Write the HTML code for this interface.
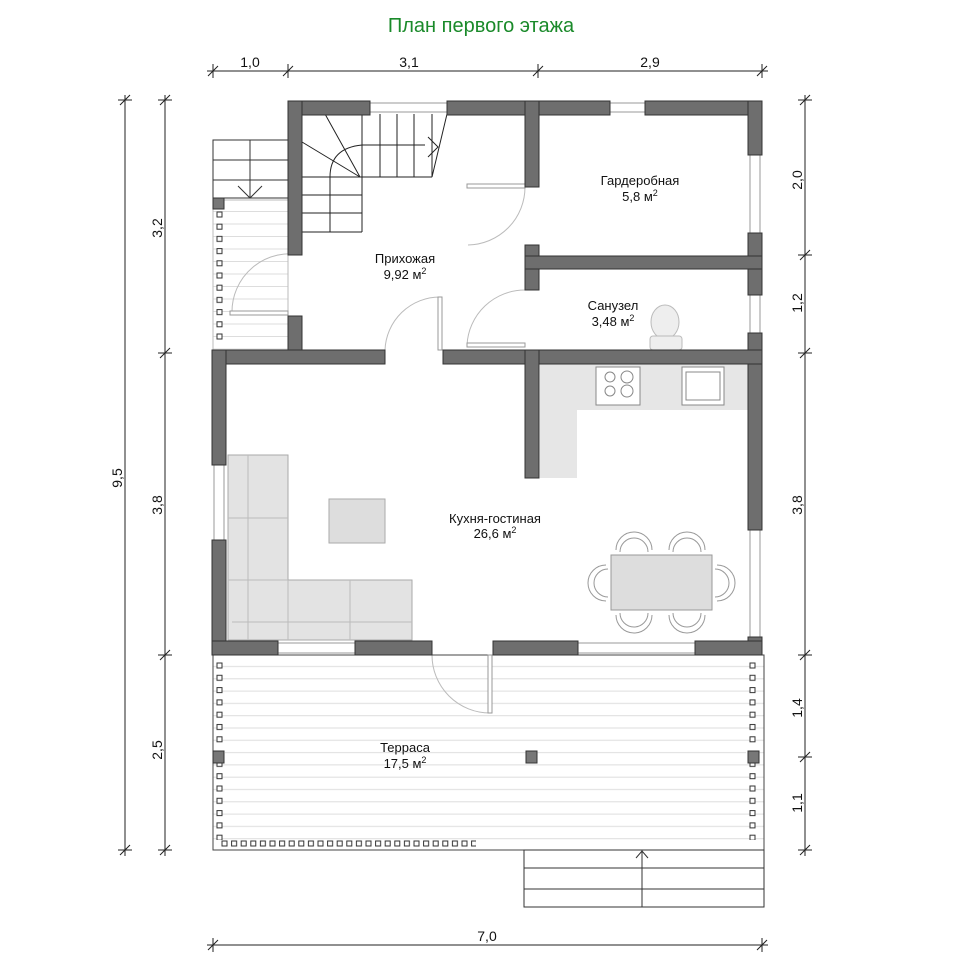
<!DOCTYPE html>
<html><head><meta charset="utf-8"><style>
html,body{margin:0;padding:0;background:#fff}
svg{display:block}
text{font-family:"Liberation Sans",sans-serif;fill:#111}
</style></head><body>
<svg width="980" height="980" viewBox="0 0 980 980" xmlns="http://www.w3.org/2000/svg">
<defs>
<pattern id="hatch" x="0" y="655" width="10" height="12.3" patternUnits="userSpaceOnUse">
<line x1="0" y1="11.5" x2="10" y2="11.5" stroke="#ddd" stroke-width="1"/></pattern>
<pattern id="hatch2" x="0" y="200" width="10" height="12.5" patternUnits="userSpaceOnUse">
<line x1="0" y1="11.5" x2="10" y2="11.5" stroke="#ddd" stroke-width="1"/></pattern>
<pattern id="postV" x="216" y="660" width="20" height="12.3" patternUnits="userSpaceOnUse">
<rect x="1" y="3" width="5" height="5" fill="#fff" stroke="#333" stroke-width="1"/></pattern>
<pattern id="postVR" x="749" y="660" width="20" height="12.3" patternUnits="userSpaceOnUse">
<rect x="1" y="3" width="5" height="5" fill="#fff" stroke="#333" stroke-width="1"/></pattern>
<pattern id="postV2" x="216" y="209" width="20" height="12.2" patternUnits="userSpaceOnUse">
<rect x="1" y="3" width="5" height="5" fill="#fff" stroke="#333" stroke-width="1"/></pattern>
<pattern id="postH" x="221" y="840" width="9.6" height="20" patternUnits="userSpaceOnUse">
<rect x="1" y="1" width="5" height="5" fill="#fff" stroke="#333" stroke-width="1"/></pattern>
</defs>

<text x="481" y="32" font-size="20" text-anchor="middle" style="fill:#1a8a2a">План первого этажа</text>

<g stroke="#222" stroke-width="1" fill="none">
<line x1="207" y1="71" x2="768" y2="71"/>
<line x1="207" y1="945" x2="768" y2="945"/>
<line x1="125" y1="95" x2="125" y2="856"/>
<line x1="165" y1="95" x2="165" y2="856"/>
<line x1="805" y1="95" x2="805" y2="856"/>
<path d="M208,76 L218,66 M283,76 L293,66 M533,76 L543,66 M757,76 L767,66 M213,64 V78 M288,64 V78 M538,64 V78 M762,64 V78"/>
<path d="M208,950 L218,940 M757,950 L767,940 M213,938 V952 M762,938 V952"/>
<path d="M120,105 L130,95 M120,855 L130,845 M118,100 H132 M118,850 H132"/>
<path d="M160,105 L170,95 M160,358 L170,348 M160,660 L170,650 M160,855 L170,845 M158,100 H172 M158,353 H172 M158,655 H172 M158,850 H172"/>
<path d="M800,105 L810,95 M800,260 L810,250 M800,358 L810,348 M800,660 L810,650 M800,762 L810,752 M800,855 L810,845 M798,100 H812 M798,255 H812 M798,353 H812 M798,655 H812 M798,757 H812 M798,850 H812"/>
</g>
<g font-size="14">
<text x="250" y="67" text-anchor="middle">1,0</text>
<text x="409" y="67" text-anchor="middle">3,1</text>
<text x="650" y="67" text-anchor="middle">2,9</text>
<text x="487" y="941" text-anchor="middle">7,0</text>
<text transform="translate(122,478) rotate(-90)" text-anchor="middle">9,5</text>
<text transform="translate(162,228) rotate(-90)" text-anchor="middle">3,2</text>
<text transform="translate(162,505) rotate(-90)" text-anchor="middle">3,8</text>
<text transform="translate(162,750) rotate(-90)" text-anchor="middle">2,5</text>
<text transform="translate(802,180) rotate(-90)" text-anchor="middle">2,0</text>
<text transform="translate(802,303) rotate(-90)" text-anchor="middle">1,2</text>
<text transform="translate(802,505) rotate(-90)" text-anchor="middle">3,8</text>
<text transform="translate(802,708) rotate(-90)" text-anchor="middle">1,4</text>
<text transform="translate(802,803) rotate(-90)" text-anchor="middle">1,1</text>
</g>

<rect x="213" y="655" width="551" height="195" fill="url(#hatch)" stroke="#444" stroke-width="1"/>
<rect x="216" y="660" width="8" height="180" fill="url(#postV)"/>
<rect x="749" y="660" width="8" height="180" fill="url(#postVR)"/>
<rect x="221" y="840" width="255" height="8" fill="url(#postH)"/>
<rect x="214" y="748" width="11" height="14" fill="#fff"/>
<rect x="746" y="748" width="12" height="14" fill="#fff"/>
<g fill="#777" stroke="#333" stroke-width="1">
<rect x="213" y="751" width="11" height="12"/>
<rect x="526" y="751" width="11" height="12"/>
<rect x="748" y="751" width="11" height="12"/>
</g>
<g stroke="#333" fill="none" stroke-width="1">
<rect x="524" y="850" width="240" height="57"/>
<line x1="524" y1="868" x2="764" y2="868"/>
<line x1="524" y1="889" x2="764" y2="889"/>
<line x1="642" y1="850" x2="642" y2="907"/>
<path d="M636,858 L642,851 L648,858"/>
</g>

<rect x="213" y="200" width="75" height="150" fill="url(#hatch2)" stroke="#bbb" stroke-width="1"/>
<rect x="216" y="209" width="8" height="135" fill="url(#postV2)"/>
<g stroke="#333" fill="none" stroke-width="1">
<path d="M213,200 V140 H288 M213,160 H288 M213,180 H288 M213,198 H288 M250,140 V198 M238,186 L250,198 L262,186"/>
</g>
<rect x="213" y="198" width="11" height="11" fill="#777" stroke="#333"/>

<g stroke="#222" fill="none" stroke-width="1">
<path d="M362,114 V177 M380,114 V177 M397,114 V177 M414,114 V177 M432,114 V177"/>
<path d="M362,177 H432 M447,114 L432,177"/>
<path d="M302,177 H362 V232 M302,195 H362 M302,213 H362 M330,177 V232 M302,232 H362"/>
<path d="M325,114 L360,177 M302,142 L360,177"/>
<path d="M330,177 Q330,148 362,145 H425"/>
<path d="M428,137 L438,147 L428,157"/>
</g>

<g fill="#e3e3e3" stroke="#aaa" stroke-width="1">
<path d="M540,364 H748 V410 H577 V478 H540 Z" stroke="none" fill="#e6e6e6"/>
<rect x="228" y="455" width="60" height="185"/>
<rect x="228" y="580" width="184" height="60"/>
<rect x="329" y="499" width="56" height="44" fill="#ddd"/>
<rect x="611" y="555" width="101" height="55" fill="#ddd" stroke="#999"/>
</g>
<g stroke="#bbb" fill="none">
<path d="M248,455 V640 M228,518 H288 M228,580 H288 M288,580 V640 M350,580 V640 M232,622 H412"/>
</g>
<g fill="#fff" stroke="#888">
<rect x="596" y="367" width="44" height="38"/>
<circle cx="610" cy="377" r="5" fill="none"/><circle cx="627" cy="377" r="6" fill="none"/>
<circle cx="610" cy="391" r="5" fill="none"/><circle cx="627" cy="391" r="6" fill="none"/>
<rect x="682" y="367" width="42" height="38"/>
<rect x="686" y="372" width="34" height="28" fill="none"/>
</g>
<g fill="none" stroke="#999" stroke-width="1">
<path d="M616,550 A18,18 0 0 1 652,550 M620,552 A14,14 0 0 1 648,552"/>
<path d="M669,550 A18,18 0 0 1 705,550 M673,552 A14,14 0 0 1 701,552"/>
<path d="M616,615 A18,18 0 0 0 652,615 M620,613 A14,14 0 0 0 648,613"/>
<path d="M669,615 A18,18 0 0 0 705,615 M673,613 A14,14 0 0 0 701,613"/>
<path d="M606,565 A18,18 0 0 0 606,601 M608,569 A14,14 0 0 0 608,597"/>
<path d="M717,565 A18,18 0 0 1 717,601 M715,569 A14,14 0 0 1 715,597"/>
</g>
<g fill="#eee" stroke="#bbb">
<ellipse cx="665" cy="322" rx="14" ry="17"/>
<rect x="650" y="336" width="32" height="14" rx="3"/>
</g>

<g fill="none" stroke="#bbb" stroke-width="1">
<path d="M302,255 A58,58 0 0 0 232,313"/>
<rect x="230" y="311" width="58" height="4" fill="#fff" stroke="#999"/>
<path d="M440,297 A55,55 0 0 0 385,350"/>
<rect x="438" y="297" width="4" height="53" fill="#fff" stroke="#999"/>
<path d="M525,187 A58,58 0 0 1 468,245"/>
<rect x="467" y="184" width="58" height="4" fill="#fff" stroke="#999"/>
<path d="M525,290 A58,58 0 0 0 467,345"/>
<rect x="467" y="343" width="58" height="4" fill="#fff" stroke="#999"/>
<path d="M432,655 A58,58 0 0 0 490,713"/>
<rect x="488" y="655" width="4" height="58" fill="#fff" stroke="#999"/>
</g>

<g fill="#fff" stroke="#999" stroke-width="1">
<rect x="370" y="103" width="77" height="9"/>
<rect x="610" y="103" width="35" height="9"/>
<rect x="750" y="155" width="10" height="78"/>
<rect x="750" y="295" width="10" height="38"/>
<rect x="750" y="530" width="10" height="107"/>
<rect x="214" y="465" width="10" height="75"/>
<rect x="278" y="643" width="77" height="10"/>
<rect x="578" y="643" width="117" height="10"/>
</g>

<g fill="#6e6e6e" stroke="#333" stroke-width="1">
<rect x="288" y="101" width="82" height="14"/>
<rect x="447" y="101" width="163" height="14"/>
<rect x="645" y="101" width="117" height="14"/>
<rect x="288" y="101" width="14" height="154"/>
<rect x="288" y="316" width="14" height="37"/>
<rect x="748" y="101" width="14" height="54"/>
<rect x="748" y="233" width="14" height="62"/>
<rect x="748" y="333" width="14" height="197"/>
<rect x="748" y="637" width="14" height="18"/>
<rect x="525" y="101" width="14" height="86"/>
<rect x="525" y="245" width="14" height="45"/>
<rect x="525" y="256" width="237" height="13"/>
<rect x="212" y="350" width="173" height="14"/>
<rect x="443" y="350" width="319" height="14"/>
<rect x="525" y="350" width="14" height="128"/>
<rect x="212" y="350" width="14" height="115"/>
<rect x="212" y="540" width="14" height="115"/>
<rect x="212" y="641" width="66" height="14"/>
<rect x="355" y="641" width="77" height="14"/>
<rect x="493" y="641" width="85" height="14"/>
<rect x="695" y="641" width="67" height="14"/>
</g>
<g stroke="none" fill="#6e6e6e">
<rect x="289" y="102" width="12" height="14"/>
<rect x="749" y="102" width="12" height="14"/>
<rect x="526" y="102" width="12" height="14"/>
<rect x="526" y="257" width="12" height="11"/>
<rect x="749" y="257" width="12" height="11"/>
<rect x="213" y="351" width="12" height="12"/>
<rect x="289" y="351" width="12" height="12"/>
<rect x="526" y="351" width="12" height="12"/>
<rect x="749" y="351" width="12" height="12"/>
<rect x="213" y="642" width="12" height="12"/>
<rect x="749" y="642" width="12" height="12"/>
</g>

<g font-size="13" text-anchor="middle">
<text x="640" y="185">Гардеробная</text>
<text x="640" y="201">5,8 м<tspan font-size="9" dy="-5">2</tspan></text>
<text x="405" y="263">Прихожая</text>
<text x="405" y="279">9,92 м<tspan font-size="9" dy="-5">2</tspan></text>
<text x="613" y="310">Санузел</text>
<text x="613" y="326">3,48 м<tspan font-size="9" dy="-5">2</tspan></text>
<text x="495" y="523">Кухня-гостиная</text>
<text x="495" y="538">26,6 м<tspan font-size="9" dy="-5">2</tspan></text>
<text x="405" y="752">Терраса</text>
<text x="405" y="768">17,5 м<tspan font-size="9" dy="-5">2</tspan></text>
</g>
</svg>
</body></html>
